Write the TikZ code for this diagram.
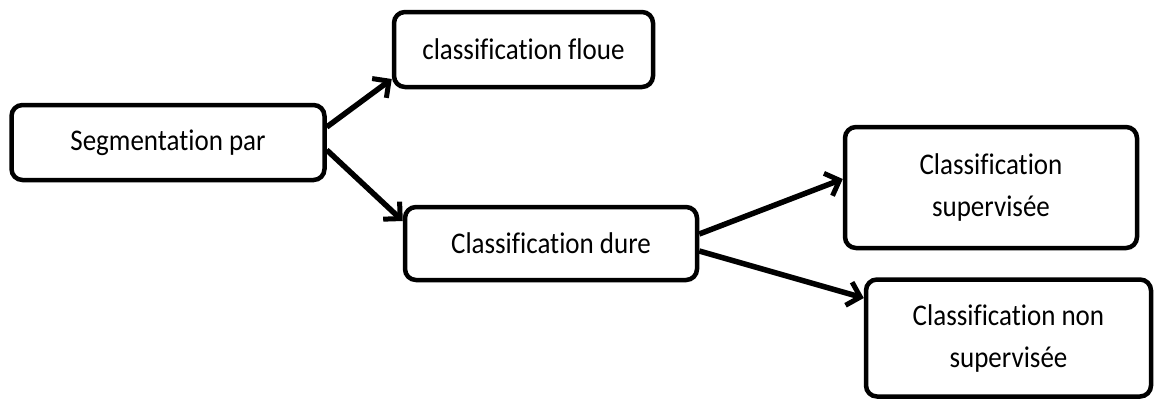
\documentclass[tikz,border=0pt]{standalone}
\usepackage{fontspec}
\setmainfont{Carlito}[Ligatures=NoCommon, FakeStretch=0.9]
\usetikzlibrary{arrows.meta}
\begin{document}
\begin{tikzpicture}[x=1pt,y=-1pt,
  box/.style={draw=black, line width=4.5pt, rounded corners=11pt, fill=white,
    inner sep=0pt, align=center, font=\fontsize{30}{42}\selectfont},
  link/.style={line width=5.5pt, -{Straight Barb[length=12pt,width=24pt,line width=5pt]}}]
\useasboundingbox (0,0) rectangle (1155,399);
% boxes, given by their corners
\node[box, minimum width=313pt, minimum height=75pt] (seg) at (168,142.5) {Segmentation par};
\node[box, minimum width=259pt, minimum height=75pt] (floue) at (523.5,49.5) {classification floue};
\node[box, minimum width=292pt, minimum height=73pt] (dure) at (551,243.5) {Classification dure};
\node[box, minimum width=292pt, minimum height=121pt] (sup) at (991,187.5) {Classification\\supervisée};
\node[box, minimum width=285pt, minimum height=117pt] (nonsup) at (1008.5,338) {Classification non\\supervisée};
% connectors
\draw[link] (seg.east |- 0,127) -- (floue.west |- 0,79);
\draw[link] (seg.east |- 0,150) -- (dure.west |- 0,221);
\draw[link] (dure.east |- 0,234) -- (sup.west |- 0,179);
\draw[link] (dure.east |- 0,251) -- (nonsup.west |- 0,298);
\end{tikzpicture}
\end{document}
